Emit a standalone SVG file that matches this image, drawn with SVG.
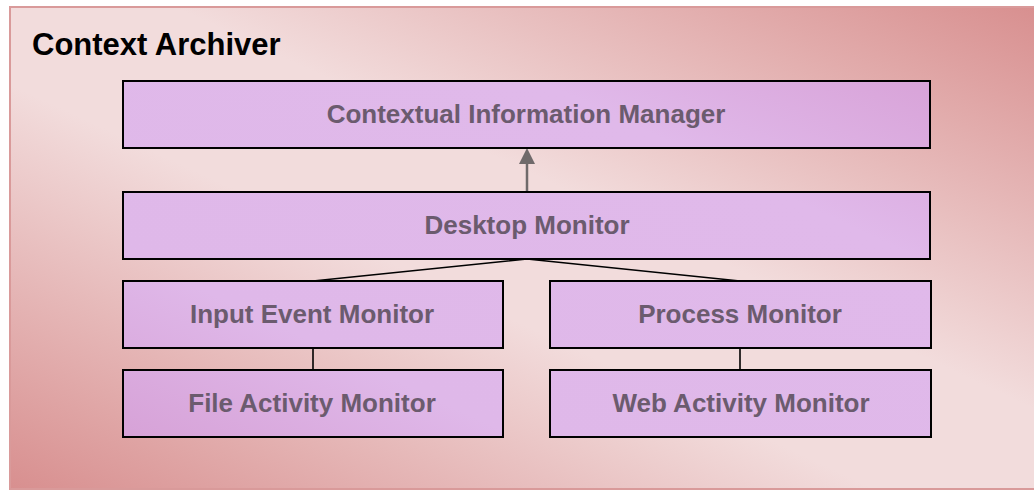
<svg xmlns="http://www.w3.org/2000/svg" width="1034" height="491" viewBox="0 0 1034 491">
  <defs>
    <linearGradient id="bgGrad" x1="0" y1="1" x2="1" y2="0">
      <stop offset="0" stop-color="#d88f8f"/>
      <stop offset="0.42" stop-color="#f2dcdc"/>
      <stop offset="0.58" stop-color="#f2dcdc"/>
      <stop offset="1" stop-color="#d88f8f"/>
    </linearGradient>
    <!-- same diagonal bands as the container, in user space -->
    <linearGradient id="nodeGrad" gradientUnits="userSpaceOnUse" x1="10" y1="489" x2="380" y2="-302">
      <stop offset="0" stop-color="#d295cd"/>
      <stop offset="0.3" stop-color="#dfb8e9"/>
      <stop offset="0.68" stop-color="#e0b9ea"/>
      <stop offset="1" stop-color="#d394cc"/>
    </linearGradient>
    <style>
      .node rect { fill: url(#nodeGrad); stroke: #000; stroke-width: 2; }
      .node text { font-family: "Liberation Sans", Arial, sans-serif; font-weight: bold; font-size: 26px; fill: #6b5b6e; text-anchor: middle; }
      .link { stroke: #000; stroke-width: 1.6; fill: none; }
      .arrow { stroke: #6f6a6b; stroke-width: 2.5; fill: none; }
      .head { fill: #6f6a6b; }
      .title { font-family: "Liberation Sans", Arial, sans-serif; font-weight: bold; font-size: 31px; fill: #000; }
    </style>
  </defs>

  <!-- container -->
  <g id="context-archiver">
    <rect x="10" y="7" width="1030" height="482" fill="url(#bgGrad)" stroke="#d99a9a" stroke-width="2"/>
    <text class="title" x="32" y="55">Context Archiver</text>
  </g>

  <!-- connectors -->
  <g id="connectors">
    <line class="arrow" x1="527" y1="192" x2="527" y2="163"/>
    <path class="head" d="M519,164 L527,148 L535,164 Z"/>
    <polyline class="link" points="313,281 527,259 740,281"/>
    <line class="link" x1="313" y1="348" x2="313" y2="370"/>
    <line class="link" x1="740" y1="348" x2="740" y2="370"/>
  </g>

  <g id="contextual-information-manager" class="node">
    <rect x="123" y="81" width="807" height="67"/>
    <text x="526" y="123">Contextual Information Manager</text>
  </g>

  <g id="desktop-monitor" class="node">
    <rect x="123" y="192" width="807" height="67"/>
    <text x="527" y="234">Desktop Monitor</text>
  </g>

  <g id="input-event-monitor" class="node">
    <rect x="123" y="281" width="380" height="67"/>
    <text x="312" y="323">Input Event Monitor</text>
  </g>

  <g id="process-monitor" class="node">
    <rect x="550" y="281" width="381" height="67"/>
    <text x="740" y="323">Process Monitor</text>
  </g>

  <g id="file-activity-monitor" class="node">
    <rect x="123" y="370" width="380" height="67"/>
    <text x="312" y="412">File Activity Monitor</text>
  </g>

  <g id="web-activity-monitor" class="node">
    <rect x="550" y="370" width="381" height="67"/>
    <text x="741" y="412">Web Activity Monitor</text>
  </g>
</svg>
